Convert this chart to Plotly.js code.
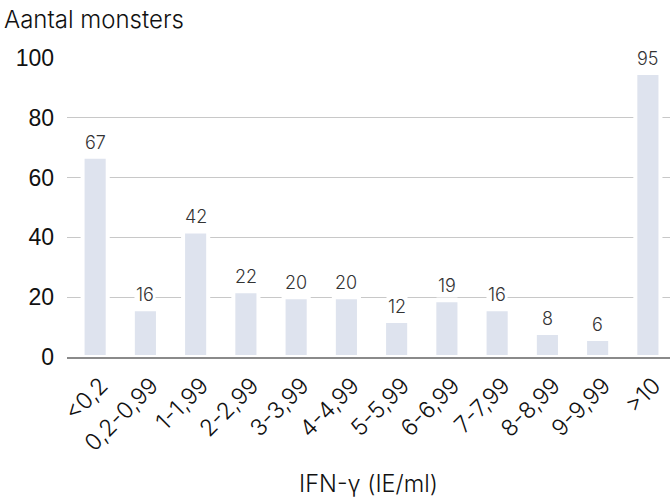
<!DOCTYPE html>
<html>
<head>
<meta charset="utf-8">
<script src="https://cdn.plot.ly/plotly-3.0.1.min.js"></script>
<style>html,body{margin:0;padding:0;background:#fff;}#chart{width:670px;height:501px;}</style>
</head>
<body>
<div id="chart"></div>
<script>
const categories = ["<0,2","0,2-0,99","1-1,99","2-2,99","3-3,99","4-4,99","5-5,99","6-6,99","7-7,99","8-8,99","9-9,99",">10"];
const counts = [67,16,42,22,20,20,12,19,16,8,6,95];
const yTicks = [0,20,40,60,80,100];
const yTitle = "Aantal monsters";
const xTitle = "IFN-γ (IE/ml)";

const FF = "Inter, Lato, sans-serif";
const trace = {
  type: "bar",
  x: categories,
  y: counts,
  width: 0.5,
  marker: {color: "#dee3ee", line: {color: "#ffffff", width: 4}},
  hoverinfo: "skip"
};

const annotations = categories.map((c, i) => ({
  x: c, y: counts[i], xref: "x", yref: "y",
  text: String(counts[i]), showarrow: false,
  yanchor: "bottom", yshift: 2,
  bgcolor: "#ffffff", borderpad: 1,
  font: {family: FF, size: 18, weight: 300, color: "#333333"}
}));

const layout = {
  width: 670, height: 501,
  margin: {l: 67, r: 0, t: 58, b: 144},
  paper_bgcolor: "#ffffff", plot_bgcolor: "#ffffff",
  showlegend: false,
  title: {
    text: yTitle, x: 0.006, xanchor: "left", xref: "container",
    y: 0.977, yanchor: "top", yref: "container",
    font: {family: FF, size: 24, weight: 300, color: "#111111"}
  },
  xaxis: {
    type: "category", range: [-0.56, 11.44],
    tickangle: -45, ticks: "", showgrid: false, zeroline: false,
    showline: true, linecolor: "#8a8a8a", linewidth: 2,
    ticklabelstandoff: 4, ticklabelshift: 6,
    tickfont: {family: FF, size: 23, weight: 300, color: "#111111"},
    title: {text: xTitle, standoff: 20, font: {family: FF, size: 23.5, weight: 300, color: "#111111"}}
  },
  yaxis: {
    range: [0, 100], tickvals: yTicks, ticks: "",
    showgrid: true, gridcolor: "#c8c8c8", gridwidth: 1,
    zeroline: false, showline: false, ticklabelstandoff: 12,
    tickfont: {family: "'Liberation Sans', Arial, sans-serif", size: 23, color: "#111111"}
  },
  annotations: annotations
};

Plotly.newPlot("chart", [trace], layout, {displayModeBar: false, staticPlot: true});
</script>
</body>
</html>
